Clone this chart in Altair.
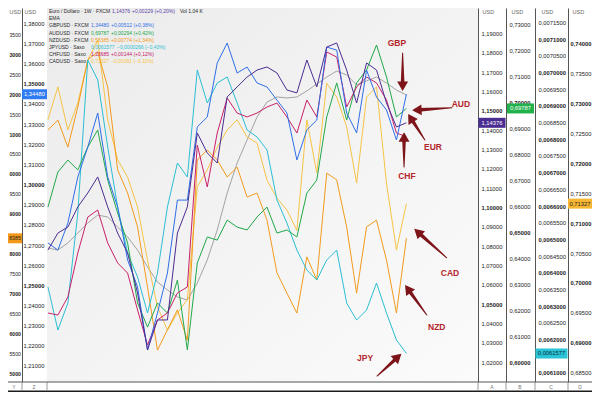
import altair as alt
import pandas as pd

FONT = "Liberation Sans"
W, H = 431, 374

# samples every 3 weeks from Jun 2024 to Jul 2026
dates = [d.strftime("%Y-%m-%d") for d in pd.date_range("2024-06-10", periods=37, freq="21D")]

eurusd = [1.0780, 1.0868, 1.0899, 1.1003, 1.1075, 1.1158, 1.1003, 1.0868, 1.0765, 1.0558,
          1.0264, 1.0419, 1.0419, 1.0868, 1.1003, 1.1385, 1.1282, 1.1230, 1.1571, 1.1623,
          1.1674, 1.1710, 1.1726, 1.1695, 1.1607, 1.1592, 1.1762, 1.1623, 1.1829, 1.1850,
          1.1710, 1.1540, 1.1747, 1.1710, 1.1540, 1.1416, 1.14376]
ema = [1.0791, 1.0780, 1.0817, 1.0868, 1.0920, 1.0961, 1.0951, 1.0899, 1.0848, 1.0780,
       1.0693, 1.0615, 1.0574, 1.0538, 1.0522, 1.0610, 1.0729, 1.0884, 1.1075, 1.1230,
       1.1349, 1.1468, 1.1545, 1.1571, 1.1566, 1.1571, 1.1602, 1.1638, 1.1674, 1.1705,
       1.1685, 1.1633, 1.1654, 1.1674, 1.1643, 1.1607, 1.1581]
gbpusd = [1.2710, 1.2675, 1.2809, 1.3038, 1.3186, 1.3355, 1.3038, 1.2889, 1.2626, 1.2492,
          1.2179, 1.2363, 1.2561, 1.2923, 1.2923, 1.3286, 1.3335, 1.3603, 1.3702, 1.3553,
          1.3583, 1.3504, 1.3484, 1.3419, 1.3355, 1.3122, 1.3271, 1.3320, 1.3682, 1.3667,
          1.3355, 1.3256, 1.3568, 1.3434, 1.3370, 1.3221, 1.34480]
audusd = [0.6599, 0.6734, 0.6780, 0.6742, 0.6830, 0.6896, 0.6703, 0.6576, 0.6461, 0.6230,
          0.6137, 0.6230, 0.6191, 0.6318, 0.6049, 0.6384, 0.6484, 0.6472, 0.6549, 0.6522,
          0.6511, 0.6561, 0.6599, 0.6499, 0.6511, 0.6484, 0.6653, 0.6703, 0.6946, 0.7077,
          0.6934, 0.7077, 0.7127, 0.7223, 0.7100, 0.6946, 0.69787]
nzdusd = [0.6110, 0.6135, 0.6067, 0.6168, 0.6286, 0.6306, 0.6218, 0.6010, 0.5952, 0.5867,
          0.5716, 0.5558, 0.5609, 0.5659, 0.5583, 0.6035, 0.6060, 0.6035, 0.5992, 0.6017,
          0.5942, 0.5952, 0.5884, 0.5752, 0.5701, 0.5651, 0.5792, 0.5734, 0.6002, 0.5985,
          0.5867, 0.5701, 0.5867, 0.5884, 0.5784, 0.5651, 0.58385]
jpyusd = [0.006357, 0.006228, 0.006309, 0.006579, 0.007038, 0.006978, 0.006777, 0.006597,
          0.006459, 0.006387, 0.006279, 0.006399, 0.006597, 0.006729, 0.006687, 0.007008,
          0.006909, 0.006969, 0.006987, 0.006909, 0.006828, 0.006807, 0.006768, 0.006618,
          0.006549, 0.006468, 0.006408, 0.006378, 0.006438, 0.006468, 0.006309, 0.006258,
          0.006288, 0.006369, 0.006279, 0.006198, 0.0061577]
chfusd = [1.1150, 1.1136, 1.1261, 1.1565, 1.1813, 1.1862, 1.1634, 1.1496, 1.1426, 1.1171,
          1.0929, 1.1102, 1.1150, 1.1288, 1.1330, 1.2311, 1.2021, 1.2394, 1.2636, 1.2532,
          1.2505, 1.2532, 1.2574, 1.2601, 1.2505, 1.2394, 1.2622, 1.2505, 1.2954, 1.2919,
          1.2574, 1.2712, 1.2781, 1.2740, 1.2622, 1.2394, 1.23685]
cadusd = [0.7273, 0.7328, 0.7256, 0.7301, 0.7373, 0.7406, 0.7273, 0.7206, 0.7177, 0.7127,
          0.7038, 0.6960, 0.6921, 0.6950, 0.6972, 0.7161, 0.7189, 0.7227, 0.7256, 0.7273,
          0.7244, 0.7234, 0.7172, 0.7142, 0.7122, 0.7088, 0.7273, 0.7184, 0.7334, 0.7311,
          0.7261, 0.7167, 0.7311, 0.7328, 0.7167, 0.7055, 0.71327]

df = pd.DataFrame({"date": dates, "EUR": eurusd, "EMA": ema, "GBP": gbpusd, "AUD": audusd,
                   "NZD": nzdusd, "JPY": jpyusd, "CHF": chfusd, "CAD": cadusd})

C_EUR, C_GBP, C_AUD, C_NZD = "#4b2c91", "#2f6ee6", "#21a84a", "#f39a1c"
C_JPY, C_CHF, C_CAD, C_EMA = "#2bbfd3", "#c8206a", "#f6c445", "#8e8e8e"
DARK = "#2a2a2a"
RED_TXT, RED_ARR = "#b3262b", "#7d1419"

DOM = {
    "EUR": [1.00985, 1.20307], "EMA": [1.00985, 1.20307], "GBP": [1.20206, 1.38758],
    "AUD": [0.59257, 0.73654], "NZD": [0.54782, 0.6416], "JPY": [0.0060721, 0.0071939],
    "CHF": [1.06732, 1.32579], "CAD": [0.68344, 0.74599],
}

# price-scale tick labels (the ones hidden under a price tag are left out)
ticks_A = [round(1.02 + 0.01 * i, 2) for i in range(18)]
ticks_B = [round(0.60 + 0.01 * i, 2) for i in range(14)]
ticks_C = [v for v in (round(0.0061 + 0.00005 * i, 6) for i in range(22)) if v != 0.00615]
ticks_D = [round(0.685 + 0.005 * i, 3) for i in range(12)]
ticks_Z = [round(1.21 + 0.01 * i, 2) for i in range(18)]
ticks_Y = [v for v in (round(0.55 + 0.005 * i, 3) for i in range(18)) if v != 0.585]

month_ticks = [(2024, 7), (2024, 9), (2024, 11), (2025, 1), (2025, 3), (2025, 5), (2025, 7),
               (2025, 9), (2025, 11), (2026, 1), (2026, 3), (2026, 5), (2026, 7), (2026, 9),
               (2026, 11)]
month_names = ["Gen", "Feb", "Mar", "Apr", "Mag", "Giu", "Lug", "Ago", "Set", "Ott", "Nov", "Dic"]

xscale = alt.Scale(type="utc", domain=[alt.DateTime(year=2024, month=6, date=8, utc=True),
                                       alt.DateTime(year=2026, month=12, date=4, utc=True)])

names_js = "[" + ",".join(f"'{m}'" for m in month_names) + "]"
x_axis = alt.Axis(
    values=[alt.DateTime(year=y, month=m, date=1, utc=True) for y, m in month_ticks],
    labelExpr=f"utcmonth(datum.value) == 0 ? utcFormat(datum.value, '%Y') : {names_js}[utcmonth(datum.value)]",
    labelFontWeight={"condition": {"test": "utcmonth(datum.value) == 0", "value": "bold"}, "value": "normal"},
    ticks=False, grid=False, domainColor="#555", domainWidth=1, labelFont=FONT,
    labelFontSize=5.8, labelColor="#333", labelPadding=2, labelOverlap=False,
    labelFlush=False, title=None,
)


def yaxis(orient, offset, values, dec, mult, pad, title_x, size=5.8, expr=None):
    test = f"abs(datum.value*{mult} - round(datum.value*{mult})) < 0.01"
    base = f"replace(format(datum.value, '.{dec}f'), '.', ',')"
    return alt.Axis(
        orient=orient, offset=offset, values=values,
        labelExpr=expr if expr else base,
        labelFontWeight={"condition": {"test": test, "value": "bold"}, "value": "normal"},
        ticks=False, grid=False, domain=True, domainColor="#555", domainWidth=1,
        labelFont=FONT, labelFontSize=size, labelColor="#222", labelPadding=pad,
        labelOverlap=False, labelFlush=False,
        title="USD", titleAngle=0, titleX=title_x, titleY=3.5, titleAlign="left",
        titleBaseline="middle", titleFont=FONT, titleFontSize=5.5, titleFontWeight="normal",
        titleColor="#666",
    )


def yscale(field):
    return alt.Scale(domain=DOM[field], zero=False, nice=False)


def series(field, color, axis, tag=None, xaxis=None, width=1.0):
    parts = [
        alt.Chart(df).mark_line(color=color, strokeWidth=width, clip=True).encode(
            x=alt.X("date:T", scale=xscale, axis=xaxis),
            y=alt.Y(f"{field}:Q", scale=yscale(field), axis=axis),
        )
    ]
    if tag is not None:
        label, xpos, halfw, fill, txt, fsize = tag
        tdf = pd.DataFrame({field: [df[field].iloc[-1]], "lab": [label]})
        hh = 5.0 / halfw
        path = f"M-1,-{hh:.3f}L1,-{hh:.3f}L1,{hh:.3f}L-1,{hh:.3f}Z"
        parts.append(
            alt.Chart(tdf).mark_point(shape=path, filled=True, size=(2 * halfw) ** 2,
                                      color=fill, opacity=1, strokeWidth=0).encode(
                x=alt.value(xpos), y=alt.Y(f"{field}:Q", scale=yscale(field), axis=None))
        )
        parts.append(
            alt.Chart(tdf).mark_text(font=FONT, fontSize=fsize, color=txt, align="center",
                                     baseline="middle").encode(
                x=alt.value(xpos), y=alt.Y(f"{field}:Q", scale=yscale(field), axis=None),
                text="lab:N")
        )
    return parts


layers = []
one = pd.DataFrame({"k": [0]})

# plot background
layers.append(
    alt.Chart(one).mark_rect(color=alt.LinearGradient(
        gradient="linear", x1=0, y1=0, x2=1, y2=1,
        stops=[alt.GradientStop(color="#ebebeb", offset=0),
               alt.GradientStop(color="#fbfbfb", offset=1)])).encode(
        x=alt.value(0), x2=alt.value(W), y=alt.value(0), y2=alt.value(H))
)

y_short = "substring(replace(format(datum.value, '.5f'), '.', ','), 3)"

layers += series("EMA", C_EMA, None, width=0.8)
layers += series("CAD", C_CAD, yaxis("right", 90, ticks_D, 5, 100, 2, 4),
                 tag=("0,71327", 533, 12, "#f7b733", "#222", 5.8))
layers += series("NZD", C_NZD, yaxis("left", 25, ticks_Y, 5, 100, 1.5, -13, size=5.2, expr=y_short),
                 tag=("8385", -32, 7, "#f39a1c", "#222", 5.2))
layers += series("JPY", C_JPY, yaxis("right", 57, ticks_C, 7, 10000, 3, 6),
                 tag=("0,0061577", 504.5, 16, "#2bc3d6", "#0d2f3a", 5.8))
layers += series("AUD", C_AUD, yaxis("right", 28, ticks_B, 5, 20, 3, 5),
                 tag=("0,69787", 473.5, 13.5, "#22b24c", "white", 5.8))
layers += series("CHF", C_CHF, None)
layers += series("GBP", C_GBP, yaxis("left", 0, ticks_Z, 5, 20, 3, -23),
                 tag=("1,34480", -12.5, 12.5, "#2f7bf2", "white", 5.8))
layers += series("EUR", C_EUR, yaxis("right", 0, ticks_A, 5, 20, 3, 4),
                 tag=("1,14376", 445, 13.5, "#4b2c91", "white", 5.8), xaxis=x_axis)

# annotations: currency labels with arrows (date / relative-height space)
ann_labels = ["GBP", "AUD", "EUR", "CHF", "CAD", "NZD", "JPY"]
ann_text_date = ["2026-06-16", "2026-10-29", "2026-08-31", "2026-07-07", "2026-10-06", "2026-09-08", "2026-04-10"]
ann_text_pos = [0.906, 0.743, 0.628, 0.551, 0.291, 0.147, 0.064]
arrow_from_date = ["2026-06-28", "2026-10-10", "2026-08-14", "2026-07-01", "2026-09-29", "2026-08-18", "2026-05-05"]
arrow_from_pos = [0.880, 0.733, 0.647, 0.575, 0.332, 0.179, 0.016]
arrow_to_date = ["2026-06-28", "2026-07-28", "2026-07-15", "2026-07-01", "2026-07-30", "2026-07-09", "2026-06-18"]
arrow_to_pos = [0.791, 0.727, 0.706, 0.655, 0.401, 0.249, 0.067]
arrow_angle = [180, 267, 328, 0, 312, 324, 48]

ann = pd.DataFrame({"label": ann_labels, "td": ann_text_date, "tp": ann_text_pos,
                    "d2": arrow_to_date, "p2": arrow_to_pos, "ang": arrow_angle})
shafts = pd.DataFrame({
    "arrow": ann_labels * 2,
    "seq": [0] * 7 + [1] * 7,
    "d": arrow_from_date + arrow_to_date,
    "p": arrow_from_pos + arrow_to_pos,
    "w": [1.0] * 7 + [4.0] * 7,
})
fscale = alt.Scale(domain=[0, 1], zero=False, nice=False)
layers += [
    alt.Chart(shafts).mark_trail(color=RED_ARR).encode(
        x=alt.X("d:T", scale=xscale, axis=None),
        y=alt.Y("p:Q", scale=fscale, axis=None),
        detail="arrow:N", order=alt.Order("seq:Q"),
        size=alt.Size("w:Q", scale=None, legend=None)),
    alt.Chart(ann).mark_point(shape="triangle-up", filled=True, size=120, color=RED_ARR,
                              opacity=1, strokeWidth=0).encode(
        x=alt.X("d2:T", scale=xscale, axis=None),
        y=alt.Y("p2:Q", scale=fscale, axis=None), angle=alt.Angle("ang:Q", scale=None)),
    alt.Chart(ann).mark_text(font=FONT, fontSize=8.5, fontWeight="bold", color=RED_TXT,
                             align="center", baseline="middle").encode(
        x=alt.X("td:T", scale=xscale, axis=None),
        y=alt.Y("tp:Q", scale=fscale, axis=None), text="label:N"),
]

# header legend (top-left)
legend_rows = [
    [("Euro / Dollaro · 1W · FXCM", DARK, 2), ("1,14376", "#5b3fa6", 65),
     ("+0,00229 (+0,20%)", "#5b3fa6", 85), ("Vol 1,04 K", DARK, 133)],
    [("EMA", DARK, 2)],
    [("GBPUSD · FXCM", DARK, 2), ("1,34480", C_GBP, 44), ("+0,00512 (+0,38%)", C_GBP, 64)],
    [("AUDUSD · FXCM", DARK, 2), ("0,69787", C_AUD, 44), ("+0,00294 (+0,42%)", C_AUD, 64)],
    [("NZDUSD · FXCM", DARK, 2), ("0,58385", C_NZD, 44), ("+0,00774 (+1,34%)", C_NZD, 64)],
    [("JPYUSD · Saxo", DARK, 2), ("0,0061577", C_JPY, 44), ("−0,0000266 (−0,43%)", C_JPY, 70)],
    [("CHFUSD · Saxo", DARK, 2), ("1,23685", C_CHF, 44), ("+0,00144 (+0,12%)", C_CHF, 64)],
    [("CADUSD · Saxo", DARK, 2), ("0,71327", C_CAD, 44), ("−0,00081 (−0,11%)", C_CAD, 64)],
]
for i, row in enumerate(legend_rows):
    for txt, col, xpos in row:
        layers.append(
            alt.Chart(one).mark_text(text=txt, font=FONT, fontSize=5, color=col,
                                     align="left", baseline="middle").encode(
                x=alt.value(xpos), y=alt.value(3.0 + 7.2 * i))
        )


def rule(x, x2, y, y2, color="#777"):
    return alt.Chart(one).mark_rule(color=color, strokeWidth=1).encode(
        x=alt.value(x), x2=alt.value(x2), y=alt.value(y), y2=alt.value(y2))


# bottom strip (time axis row) frame and column letters
layers.append(rule(-39, 545, H, H, "#555"))
for xv in [-25, 0, 431, 459, 488, 521]:
    layers.append(rule(xv, xv, H, H + 8, "#999"))
layers.append(
    alt.Chart(one).mark_rect(color="#1c1c1c").encode(
        x=alt.value(-39), x2=alt.value(545), y=alt.value(H + 8.5), y2=alt.value(H + 10))
)
for letter, xv in [("Y", -33), ("Z", -13), ("A", 445), ("B", 473), ("C", 504), ("D", 533)]:
    layers.append(
        alt.Chart(one).mark_text(text=letter, font=FONT, fontSize=5, color="#777",
                                 align="center", baseline="middle").encode(
            x=alt.value(xv), y=alt.value(H + 4.5))
    )

chart = alt.layer(*layers).resolve_scale(y="independent").properties(
    width=W, height=H,
    autosize=alt.AutoSizeParams(type="none"),
    padding={"left": 39, "top": 0, "right": 114, "bottom": 10},
).configure_view(stroke=None)

chart.save("out.html", embed_options={"renderer": "svg", "actions": False})
